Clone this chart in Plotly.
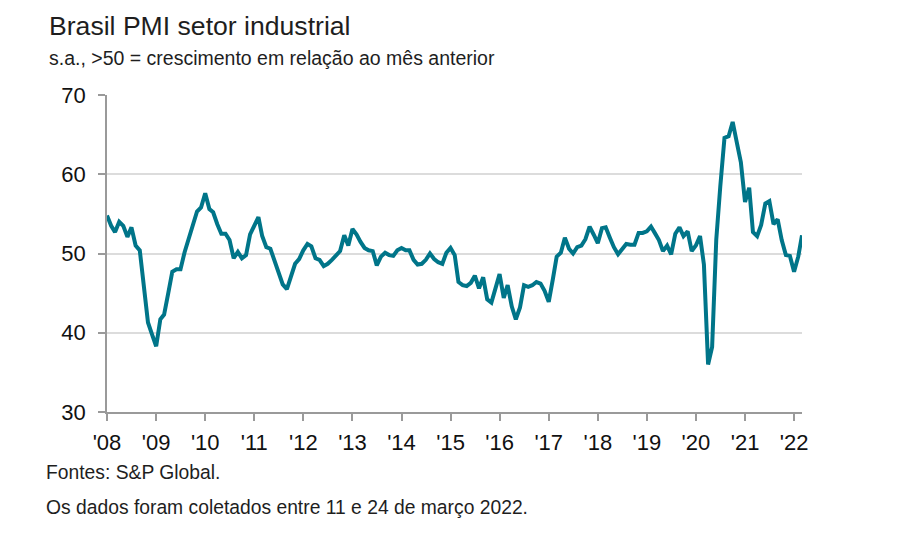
import pandas as pd
import plotly.graph_objects as go

# Monthly Brazil manufacturing PMI, Jan 2008 - Mar 2022
pmi_2008 = [54.8, 53.5, 52.7, 54.0, 53.5, 52.1, 53.3, 51.0, 50.4, 45.5, 41.3, 39.8]
pmi_2009 = [38.3, 41.7, 42.3, 45.0, 47.7, 48.0, 48.0, 50.2, 51.9, 53.7, 55.3, 55.8]
pmi_2010 = [57.6, 55.6, 55.2, 53.7, 52.5, 52.5, 51.7, 49.4, 50.2, 49.4, 49.8, 52.4]
pmi_2011 = [53.5, 54.6, 52.2, 50.8, 50.6, 49.0, 47.6, 46.1, 45.5, 46.9, 48.7, 49.3]
pmi_2012 = [50.4, 51.2, 50.9, 49.4, 49.2, 48.4, 48.7, 49.2, 49.7, 50.3, 52.3, 51.0]
pmi_2013 = [53.1, 52.4, 51.5, 50.7, 50.4, 50.3, 48.5, 49.6, 50.1, 49.8, 49.7, 50.4]
pmi_2014 = [50.7, 50.4, 50.4, 49.2, 48.6, 48.7, 49.2, 50.0, 49.3, 48.9, 48.7, 50.1]
pmi_2015 = [50.7, 49.8, 46.4, 46.0, 45.9, 46.3, 47.2, 45.6, 47.0, 44.2, 43.8, 45.5]
pmi_2016 = [47.4, 44.4, 46.0, 43.3, 41.7, 43.2, 46.0, 45.8, 46.0, 46.4, 46.2, 45.3]
pmi_2017 = [43.9, 46.8, 49.6, 50.1, 52.0, 50.6, 50.0, 50.8, 51.0, 51.8, 53.4, 52.4]
pmi_2018 = [51.3, 53.2, 53.3, 52.0, 50.8, 49.9, 50.6, 51.2, 51.1, 51.1, 52.6, 52.6]
pmi_2019 = [52.8, 53.4, 52.6, 51.7, 50.3, 51.0, 49.9, 52.5, 53.3, 52.2, 52.8, 50.3]
pmi_2020 = [51.0, 52.2, 48.6, 36.0, 38.2, 51.8, 58.5, 64.6, 64.8, 66.6, 64.0, 61.5]
pmi_2021 = [56.5, 58.3, 52.7, 52.2, 53.6, 56.3, 56.6, 53.7, 54.3, 51.7, 49.8, 49.7]
pmi_2022 = [47.7, 49.6, 52.3]

pmi = (pmi_2008 + pmi_2009 + pmi_2010 + pmi_2011 + pmi_2012 + pmi_2013 + pmi_2014
       + pmi_2015 + pmi_2016 + pmi_2017 + pmi_2018 + pmi_2019 + pmi_2020 + pmi_2021 + pmi_2022)
months = pd.date_range("2008-01-01", periods=len(pmi), freq="MS")

year_ticks = [f"{y}-01-01" for y in range(2008, 2023)]
year_labels = ["'08", "'09", "'10", "'11", "'12", "'13", "'14", "'15",
               "'16", "'17", "'18", "'19", "'20", "'21", "'22"]
y_ticks = [30, 40, 50, 60, 70]

title = "Brasil PMI setor industrial"
subtitle = "s.a., >50 = crescimento em relação ao mês anterior"
source = "Fontes: S&P Global."
note = "Os dados foram coletados entre 11 e 24 de março 2022."

FONT = "Liberation Sans, Arial, sans-serif"
TXT = "#1e1e1e"

fig = go.Figure()
fig.add_trace(go.Scatter(
    x=months, y=pmi, mode="lines",
    line=dict(color="#007589", width=4, shape="linear"),
    hoverinfo="x+y",
))

# page body adds an 8px offset; target screenshot coordinates minus 8
OFF = 8
W, H = 911, 535
L = 106.7 - OFF
T = 95 - OFF
R = W - (802.3 - OFF)
B = H - (412.3 - OFF)
pw, ph = W - L - R, H - T - B

def px(xpix):
    return (xpix - OFF - L) / pw

def py(ypix):
    return (H - B - (ypix - OFF)) / ph

ann = [
    dict(text=title, x=px(47), y=py(25.5), font=dict(size=26.6, color=TXT)),
    dict(text=subtitle, x=px(47), y=py(58.0), font=dict(size=19.5, color=TXT)),
    dict(text=source, x=px(44), y=py(473), font=dict(size=19.3, color=TXT)),
    dict(text=note, x=px(44), y=py(508), font=dict(size=19.3, color=TXT)),
]
annotations = []
for a in ann:
    annotations.append(dict(
        text=a["text"], x=a["x"], y=a["y"], xref="paper", yref="paper",
        xanchor="left", yanchor="middle", showarrow=False, font=a["font"],
    ))

fig.update_layout(
    width=W, height=H,
    margin=dict(l=L, r=R, t=T, b=B, pad=0),
    paper_bgcolor="white", plot_bgcolor="white",
    font=dict(family=FONT, color=TXT),
    showlegend=False,
    annotations=annotations,
    xaxis=dict(
        type="date",
        range=[months[0], months[-1]],
        tickvals=year_ticks, ticktext=year_labels,
        showgrid=False, zeroline=False,
        showline=True, linecolor="#9a9a9a", linewidth=1.5,
        ticks="outside", ticklen=7, tickcolor="#9a9a9a", tickwidth=1.5,
        tickfont=dict(size=22, color="#111111"),
        ticklabelstandoff=3,
    ),
    yaxis=dict(
        range=[30, 70], tickvals=y_ticks,
        showgrid=True, gridcolor="#dcdcdc", gridwidth=1.5,
        zeroline=False,
        showline=True, linecolor="#9a9a9a", linewidth=1.5,
        ticks="outside", ticklen=7, tickcolor="#9a9a9a", tickwidth=1.5,
        tickfont=dict(size=22, color="#111111"),
        ticklabelstandoff=8,
    ),
)

fig.write_html("out.html")
